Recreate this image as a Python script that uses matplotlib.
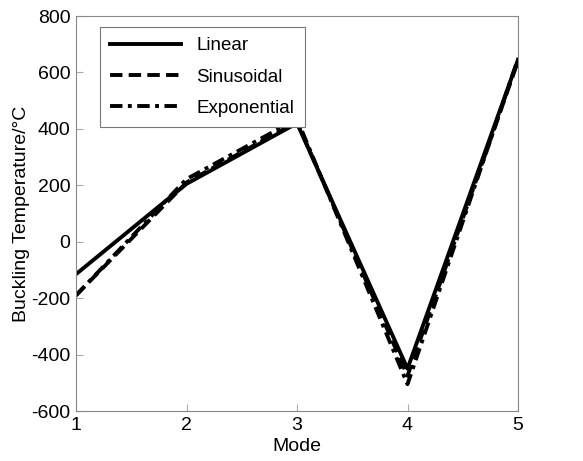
import matplotlib.pyplot as plt

modes = [1, 2, 3, 4, 5]
linear = [-115, 205, 420, -450, 645]
sinusoidal = [-190, 210, 425, -475, 640]
exponential = [-190, 222, 435, -505, 648]

plt.rcParams["font.family"] = ["Liberation Sans", "DejaVu Sans"]
plt.rcParams["axes.unicode_minus"] = False

fig = plt.figure(figsize=(5.83, 4.61), dpi=100)
ax = fig.add_axes([76 / 583, 1 - 411 / 461, (518 - 76) / 583, (411 - 16) / 461])

ax.plot(modes, linear, "k-", lw=2.8, label="Linear")
ax.plot(modes, sinusoidal, color="k", lw=2.8, dashes=(3.2, 1.6), label="Sinusoidal")
ax.plot(modes, exponential, color="k", lw=2.8, dashes=(3.2, 1.4, 1.0, 1.4), label="Exponential")

ax.set_xlim(1, 5)
ax.set_ylim(-600, 800)
ax.set_xticks(modes)
ax.set_yticks(range(-600, 801, 200))
ax.tick_params(direction="in", color="#aaaaaa", labelsize=14, length=5)
ax.tick_params(axis="x", pad=4)
ax.tick_params(axis="y", pad=4)
for s in ax.spines.values():
    s.set_color("#888888")
ax.set_xlabel("Mode", fontsize=14, labelpad=3)
ax.set_ylabel("Buckling Temperature/°C", fontsize=14, labelpad=1)

leg = ax.legend(loc="upper left", fontsize=13.5, fancybox=False, framealpha=1,
                edgecolor="#777777", handlelength=3.8, borderpad=0.55,
                labelspacing=0.75, borderaxespad=0,
                bbox_to_anchor=(0.054, 0.972))
leg.get_frame().set_linewidth(0.8)

fig.savefig("out.png", dpi=100)
